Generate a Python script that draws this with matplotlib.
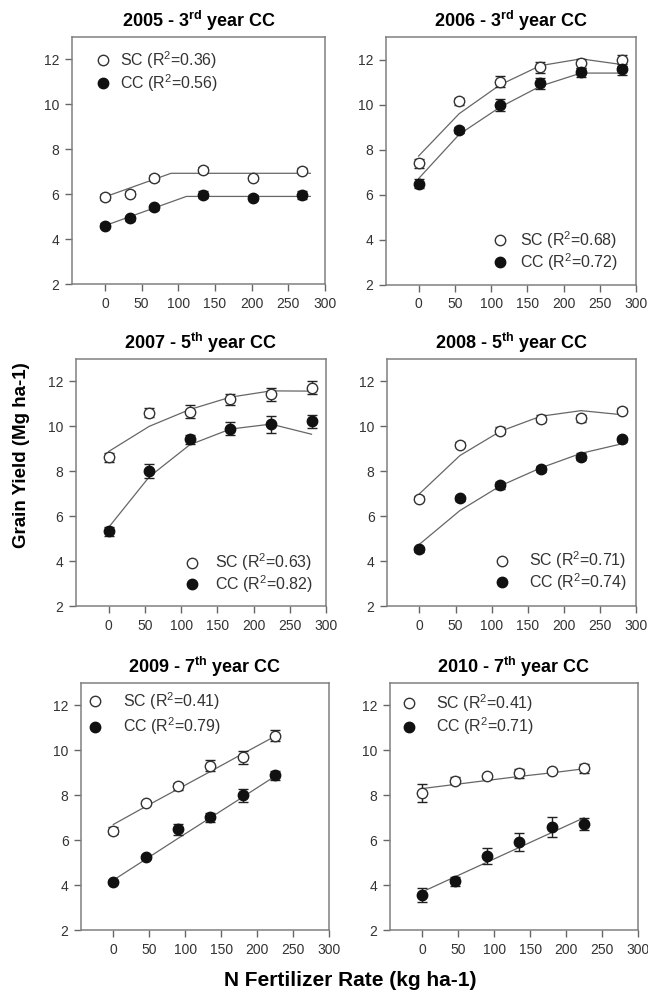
import matplotlib.pyplot as plt
from matplotlib.lines import Line2D

plt.rcParams['font.family'] = ['Liberation Sans', 'DejaVu Sans']
plt.rcParams['mathtext.default'] = 'regular'

titles = ["2005 - 3$^{rd}$ year CC", "2006 - 3$^{rd}$ year CC",
          "2007 - 5$^{th}$ year CC", "2008 - 5$^{th}$ year CC",
          "2009 - 7$^{th}$ year CC", "2010 - 7$^{th}$ year CC"]

# N rates for each year
x_2005 = [0, 34, 67, 134, 202, 269]
x_2006 = [0, 56, 112, 168, 224, 280]
x_2007 = [0, 56, 112, 168, 224, 280]
x_2008 = [0, 56, 112, 168, 224, 280]
x_2009 = [0, 45, 90, 135, 180, 225]
x_2010 = [0, 45, 90, 135, 180, 225]

# sole crop corn (SC)
sc_2005 = [5.87, 6.02, 6.72, 7.08, 6.72, 7.05]
sc_2006 = [7.4, 10.15, 11.02, 11.66, 11.84, 11.96]
sc_2007 = [8.62, 10.6, 10.66, 11.2, 11.42, 11.72]
sc_2008 = [6.78, 9.19, 9.8, 10.35, 10.36, 10.7]
sc_2009 = [6.43, 7.65, 8.4, 9.32, 9.69, 10.66]
sc_2010 = [8.1, 8.65, 8.84, 8.99, 9.08, 9.2]

sc_err_2005 = [0.12, 0.1, 0.12, 0.12, 0.08, 0.12]
sc_err_2006 = [0.2, 0.15, 0.25, 0.25, 0.2, 0.25]
sc_err_2007 = [0.2, 0.2, 0.3, 0.25, 0.3, 0.3]
sc_err_2008 = [0.12, 0.1, 0.15, 0.15, 0.15, 0.1]
sc_err_2009 = [0.15, 0.1, 0.15, 0.25, 0.3, 0.25]
sc_err_2010 = [0.42, 0.15, 0.1, 0.2, 0.1, 0.2]

# continuous corn (CC)
cc_2005 = [4.6, 4.92, 5.42, 5.97, 5.85, 5.97]
cc_2006 = [6.5, 8.88, 9.98, 10.94, 11.44, 11.56]
cc_2007 = [5.32, 8.02, 9.42, 9.9, 10.1, 10.22]
cc_2008 = [4.52, 6.8, 7.38, 8.1, 8.65, 9.42]
cc_2009 = [4.14, 5.24, 6.48, 7.03, 8.0, 8.9]
cc_2010 = [3.55, 4.16, 5.3, 5.93, 6.58, 6.72]

cc_err_2005 = [0.12, 0.1, 0.12, 0.15, 0.12, 0.18]
cc_err_2006 = [0.2, 0.15, 0.25, 0.25, 0.2, 0.25]
cc_err_2007 = [0.2, 0.3, 0.2, 0.3, 0.38, 0.3]
cc_err_2008 = [0.12, 0.12, 0.15, 0.15, 0.15, 0.12]
cc_err_2009 = [0.1, 0.1, 0.25, 0.2, 0.3, 0.2]
cc_err_2010 = [0.3, 0.2, 0.35, 0.4, 0.45, 0.25]

# fitted regression lines
sc_fit_x_2005 = [0, 90, 280]
sc_fit_2005 = [5.88, 6.93, 6.93]
cc_fit_x_2005 = [0, 111, 280]
cc_fit_2005 = [4.6, 5.9, 5.9]
sc_fit_2006 = [7.72, 9.6, 10.87, 11.73, 12.03, 11.78]
cc_fit_2006 = [6.72, 8.68, 9.88, 10.82, 11.4, 11.4]
sc_fit_2007 = [8.88, 10.0, 10.75, 11.3, 11.58, 11.57]
cc_fit_2007 = [5.5, 7.75, 9.18, 9.88, 10.1, 9.65]
sc_fit_2008 = [7.0, 8.7, 9.78, 10.45, 10.7, 10.52]
cc_fit_2008 = [4.75, 6.25, 7.35, 8.15, 8.8, 9.22]
sc_fit_2009 = [6.7, 7.5, 8.28, 9.06, 9.85, 10.63]
cc_fit_2009 = [4.22, 5.15, 6.08, 7.0, 7.92, 8.85]
sc_fit_2010 = [8.3, 8.48, 8.66, 8.84, 9.0, 9.18]
cc_fit_2010 = [3.7, 4.36, 5.02, 5.68, 6.34, 7.0]

sc_r2 = ["0.36", "0.68", "0.63", "0.71", "0.41", "0.41"]
cc_r2 = ["0.56", "0.72", "0.82", "0.74", "0.79", "0.71"]

panels = [
    (x_2005, sc_2005, sc_err_2005, cc_2005, cc_err_2005, sc_fit_x_2005, sc_fit_2005, cc_fit_x_2005, cc_fit_2005),
    (x_2006, sc_2006, sc_err_2006, cc_2006, cc_err_2006, x_2006, sc_fit_2006, x_2006, cc_fit_2006),
    (x_2007, sc_2007, sc_err_2007, cc_2007, cc_err_2007, x_2007, sc_fit_2007, x_2007, cc_fit_2007),
    (x_2008, sc_2008, sc_err_2008, cc_2008, cc_err_2008, x_2008, sc_fit_2008, x_2008, cc_fit_2008),
    (x_2009, sc_2009, sc_err_2009, cc_2009, cc_err_2009, x_2009, sc_fit_2009, x_2009, cc_fit_2009),
    (x_2010, sc_2010, sc_err_2010, cc_2010, cc_err_2010, x_2010, sc_fit_2010, x_2010, cc_fit_2010),
]

# layout in pixels: left, right, top, bottom
W, H = 648, 992
boxes = [(72, 325, 37, 284), (386, 636, 37, 285),
         (76, 326, 359, 606), (387, 636, 359, 606),
         (81, 329, 683, 930), (390, 638, 683, 930)]
# legend anchor (axes fraction) and text pad
leg_pos = [(0.095, 0.95, 0.6), (0.428, 0.225, 0.8),
           (0.436, 0.22, 1.0), (0.434, 0.228, 1.25),
           (0.028, 0.972, 1.3), (0.048, 0.963, 1.25)]
leg_space = [0.05, 0.0, 0.0, 0.0, 0.25, 0.12]

fig = plt.figure(figsize=(W / 100, H / 100), dpi=100)

for i, p in enumerate(panels):
    x, sc, sce, cc, cce, fxs, fys, fxc, fyc = p
    l, r, t, b = boxes[i]
    ax = fig.add_axes([l / W, 1 - b / H, (r - l) / W, (b - t) / H])

    ax.plot(fxs, fys, color="#666666", lw=0.9, zorder=2)
    ax.plot(fxc, fyc, color="#666666", lw=0.9, zorder=2)
    ax.errorbar(x, sc, yerr=sce, fmt="none", ecolor="#222222", elinewidth=1,
                capsize=3.5, capthick=1, zorder=3)
    ax.errorbar(x, cc, yerr=cce, fmt="none", ecolor="#222222", elinewidth=1,
                capsize=3.5, capthick=1, zorder=3)
    ax.plot(x, sc, "o", ms=7.5, mfc="white", mec="#333333", mew=1, zorder=4)
    ax.plot(x, cc, "o", ms=7.5, mfc="#111111", mec="#111111", mew=1, zorder=4)

    ax.set_xlim(-45, 300)
    ax.set_ylim(2, 13)
    ax.set_xticks(range(0, 301, 50))
    ax.set_yticks(range(2, 13, 2))
    ax.tick_params(direction="out", length=5, width=1, color="#666666",
                   labelsize=10, labelcolor="#333333", pad=4)
    for s in ax.spines.values():
        s.set_color("#808080")
        s.set_linewidth(1.1)
    ax.set_title(titles[i], fontsize=13, fontweight="bold", pad=7)

    handles = [Line2D([], [], ls="none", marker="o", ms=7.5, mfc="white", mec="#333333"),
               Line2D([], [], ls="none", marker="o", ms=7.5, mfc="#111111", mec="#111111")]
    labels = ["SC (R$^2$=%s)" % sc_r2[i], "CC (R$^2$=%s)" % cc_r2[i]]
    lx, ly, pad = leg_pos[i]
    leg = ax.legend(handles, labels, loc="upper left", bbox_to_anchor=(lx, ly),
                    frameon=False, fontsize=11.5, handlelength=0.9,
                    handletextpad=pad, borderpad=0, borderaxespad=0,
                    labelspacing=leg_space[i])
    for txt in leg.get_texts():
        txt.set_color("#333333")

fig.text(22 / W, 1 - 455 / H, "Grain Yield (Mg ha-1)", rotation=90,
         ha="center", va="center", fontsize=13.5, fontweight="bold")
fig.text(350 / W, 1 - 980 / H, "N Fertilizer Rate (kg ha-1)",
         ha="center", va="center", fontsize=15, fontweight="bold")

fig.savefig("out.png", dpi=100)
